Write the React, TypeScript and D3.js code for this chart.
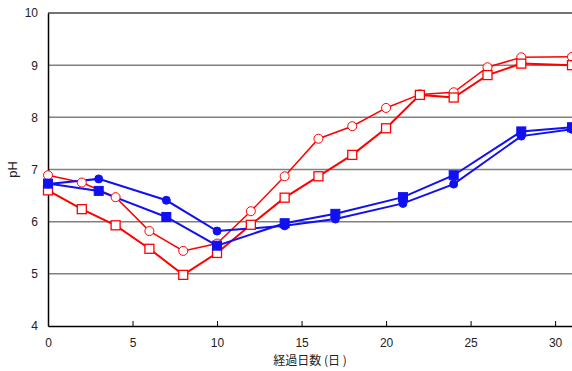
import React, { useEffect, useRef } from 'react';
import * as d3 from 'd3';

interface Pt {
  day: number;
  ph: number;
}

// 赤系 (白抜き)
const redCircleDays = [0, 2, 4, 6, 8, 10, 12, 14, 16, 18, 20, 22, 24, 26, 28, 31];
const redCirclePh = [6.89, 6.75, 6.47, 5.82, 5.44, 5.58, 6.2, 6.87, 7.59, 7.83, 8.18, 8.44, 8.48, 8.96, 9.15, 9.16];

const redSquareDays = [0, 2, 4, 6, 8, 10, 12, 14, 16, 18, 20, 22, 24, 26, 28, 31];
const redSquarePh = [6.6, 6.24, 5.93, 5.48, 4.98, 5.4, 5.94, 6.46, 6.87, 7.28, 7.79, 8.43, 8.38, 8.81, 9.03, 9.0];

// 青系 (塗りつぶし)
const blueCircleDays = [0, 3, 7, 10, 14, 17, 21, 24, 28, 31];
const blueCirclePh = [6.72, 6.82, 6.41, 5.82, 5.92, 6.05, 6.35, 6.72, 7.64, 7.77];

const blueSquareDays = [0, 3, 7, 10, 14, 17, 21, 24, 28, 31];
const blueSquarePh = [6.73, 6.59, 6.09, 5.54, 5.97, 6.15, 6.47, 6.89, 7.73, 7.81];

const xTicks = [0, 5, 10, 15, 20, 25, 30];
const yTicks = [4, 5, 6, 7, 8, 9, 10];

const zip = (days: number[], ph: number[]): Pt[] => days.map((d, i) => ({ day: d, ph: ph[i] }));

const App: React.FC = () => {
  const svgRef = useRef<SVGSVGElement>(null);

  useEffect(() => {
    if (!svgRef.current) return;
    const root = d3.select(svgRef.current);
    root.selectAll('*').remove();

    const W = 572;
    const H = 371;
    const margin = { top: 13, right: 0, bottom: 45, left: 48 };
    const width = W - margin.left - margin.right;
    const height = H - margin.top - margin.bottom;

    const x = d3.scaleLinear().domain([0, 31]).range([0, width]);
    const y = d3.scaleLinear().domain([4, 10]).range([height, 0]);

    const svg = root.append('g').attr('transform', `translate(${margin.left},${margin.top})`);
    const font = 'Liberation Sans, Arial, sans-serif';

    // grid lines
    svg.append('g')
      .selectAll('line')
      .data(yTicks.filter(t => t > 4))
      .enter()
      .append('line')
      .attr('x1', 0)
      .attr('x2', width)
      .attr('y1', d => y(d))
      .attr('y2', d => y(d))
      .attr('stroke', d => (d === 10 ? '#444' : '#808080'))
      .attr('stroke-width', 1.5);

    // x axis
    const xAxis = svg.append('g')
      .attr('transform', `translate(0,${height})`)
      .call(d3.axisBottom(x).tickValues(xTicks).tickFormat(d3.format('d')).tickSizeInner(-5).tickSizeOuter(0).tickPadding(12));
    xAxis.select('.domain').attr('stroke', '#000').attr('stroke-width', 1.5);
    xAxis.selectAll('.tick line').attr('stroke', '#000');
    xAxis.selectAll('text').style('font-size', '12px').style('font-family', font).attr('fill', '#222');

    // y axis
    const yAxis = svg.append('g')
      .call(d3.axisLeft(y).tickValues(yTicks).tickFormat(d3.format('d')).tickSize(0).tickPadding(10));
    yAxis.select('.domain').attr('stroke', '#000').attr('stroke-width', 1.5);
    yAxis.selectAll('text').style('font-size', '12px').style('font-family', font).attr('fill', '#222');

    // labels
    root.append('text')
      .attr('transform', `translate(17,${margin.top + y(7)}) rotate(-90)`)
      .attr('text-anchor', 'middle')
      .style('font-size', '13px')
      .style('font-family', font)
      .attr('fill', '#222')
      .text('pH');

    root.append('text')
      .attr('x', 310)
      .attr('y', 365)
      .attr('text-anchor', 'middle')
      .style('font-size', '12px')
      .style('font-family', 'Noto Sans CJK JP, sans-serif')
      .attr('fill', '#222')
      .text('経過日数 (日 )');

    const line = d3.line<Pt>().x(d => x(d.day)).y(d => y(d.ph));

    const series = [
      { data: zip(redCircleDays, redCirclePh), color: '#ff0000', lw: 1.5, shape: 'circle', filled: false },
      { data: zip(redSquareDays, redSquarePh), color: '#ff0000', lw: 2, shape: 'square', filled: false },
      { data: zip(blueCircleDays, blueCirclePh), color: '#1010f0', lw: 2, shape: 'circle', filled: true },
      { data: zip(blueSquareDays, blueSquarePh), color: '#1010f0', lw: 2, shape: 'square', filled: true },
    ];

    series.forEach(s => {
      svg.append('path')
        .datum(s.data)
        .attr('d', line)
        .attr('fill', 'none')
        .attr('stroke', s.color)
        .attr('stroke-width', s.lw);
    });

    series.forEach(s => {
      const g = svg.append('g');
      if (s.shape === 'circle') {
        g.selectAll('circle')
          .data(s.data)
          .enter()
          .append('circle')
          .attr('cx', d => x(d.day))
          .attr('cy', d => y(d.ph))
          .attr('r', s.filled ? 4 : 4.5)
          .attr('fill', s.filled ? s.color : '#fff')
          .attr('stroke', s.color)
          .attr('stroke-width', 1);
      } else {
        const sz = 9;
        g.selectAll('rect')
          .data(s.data)
          .enter()
          .append('rect')
          .attr('x', d => x(d.day) - sz / 2)
          .attr('y', d => y(d.ph) - sz / 2)
          .attr('width', sz)
          .attr('height', sz)
          .attr('fill', s.filled ? s.color : '#fff')
          .attr('stroke', s.color)
          .attr('stroke-width', s.filled ? 1 : 1.3);
      }
    });
  }, []);

  return (
    <div style={{ position: 'fixed', left: 0, top: 0, width: 572, height: 371, background: '#fff' }}>
      <svg ref={svgRef} width={572} height={371} style={{ display: 'block' }}></svg>
    </div>
  );
};

export default App;
